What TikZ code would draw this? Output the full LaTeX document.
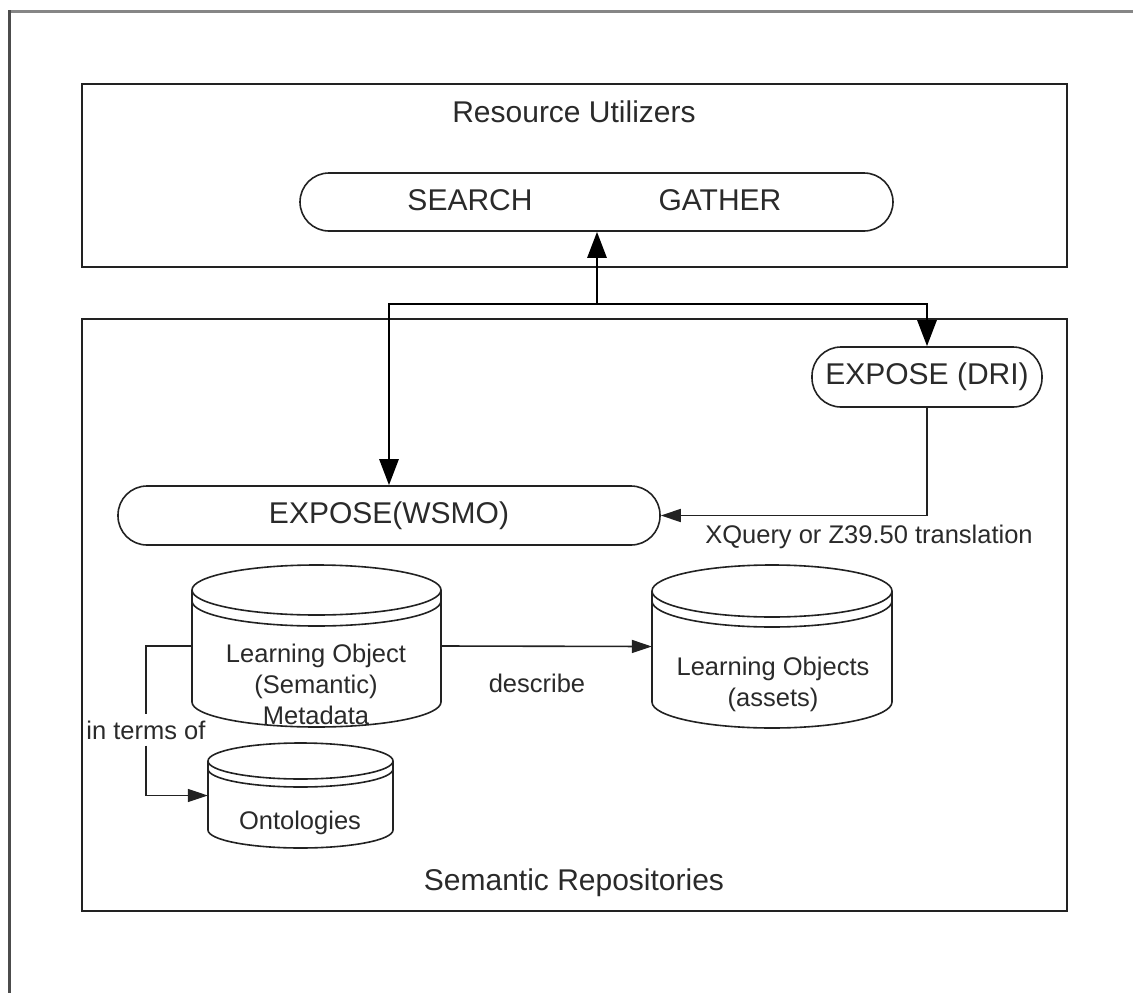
\documentclass[tikz,border=0pt]{standalone}
\usepackage{fontspec}
\setmainfont{Liberation Sans}
\usetikzlibrary{arrows.meta,calc}
\definecolor{ink}{HTML}{222222}
\definecolor{txt}{HTML}{2A2A2A}
\newcommand\bigtxt{\fontsize{30}{36}\selectfont}
\newcommand\smalltxt{\fontsize{25.5}{31}\selectfont}
% cylinder: #1 name, #2 cx, #3 top, #4 bottom, #5 rx, #6 ry, #7 gap
\newcommand\mycyl[7]{%
  \node[inner sep=0pt, minimum width={2*#5 pt}, minimum height={(#4-#3)*1pt}] (#1) at (#2,{-(#3+#4)/2}) {};
  \draw[cylline] ({#2-#5},{-#3-#6}) -- ({#2-#5},{-#4+#6})
     arc[start angle=180,end angle=360,x radius=#5,y radius=#6] -- ({#2+#5},{-#3-#6});
  \draw[cylline] (#2,{-#3-#6}) ellipse[x radius=#5,y radius=#6];
  \draw[cylline] ({#2-#5},{-#3-#6-#7}) arc[start angle=180,end angle=360,x radius=#5,y radius=#6];
}
\tikzset{
  frame/.style={draw=ink, line width=2pt, inner sep=0pt},
  pill/.style={draw=ink, line width=1.6pt, rounded corners=29pt, inner sep=0pt, minimum height=58pt, text=txt, font=\bigtxt},
  cylline/.style={draw=ink, line width=1.6pt},
  big/.style={text=txt, font=\bigtxt, inner sep=0pt},
  small/.style={text=txt, font=\smalltxt, inner sep=0pt, align=center},
  mainarrow/.style={draw=black, line width=2.8pt, -{Triangle[length=26pt,width=19pt]}},
  thinline/.style={draw=ink, line width=1.6pt},
  thinarrow/.style={draw=ink, line width=1.6pt, -{Triangle[length=20pt,width=13pt]}},
}
\begin{document}
\begin{tikzpicture}[x=1pt,y=1pt]
\useasboundingbox (0,0) rectangle (1133,-993);
% outer frame (partially visible)
\draw[draw=gray!95, line width=3pt] (8,-11.5) -- (1133,-11.5);
\draw[draw=black!70, line width=3pt] (9.5,-10) -- (9.5,-993);

% containers
\node[frame, minimum width=985pt, minimum height=183pt] (ru) at (574.5,-175.5) {};
\node[big] (rutitle) at (574,-112) {Resource Utilizers};
\node[frame, minimum width=985pt, minimum height=592pt] (sr) at (574.5,-615) {};
\node[big] (srtitle) at (574,-883) {Semantic Repositories};

% search / gather
\node[pill, minimum width=593pt] (sg) at (596.5,-202) {};
\node[big] (search) at (470,-200) {SEARCH};
\node[big] (gather) at (720,-200) {GATHER};

% expose nodes
\node[pill, minimum width=230pt, minimum height=60pt] (dri) at (927,-377) {EXPOSE (DRI)};
\node[pill, minimum width=542pt, minimum height=59pt] (wsmo) at (389,-515.5) {EXPOSE(WSMO)};

% branch connectors
\coordinate (j) at (597,-304);
\draw[mainarrow] (j) -- (j |- sg.south);
\draw[mainarrow] (j) -| (wsmo.north);
\draw[mainarrow] (j) -| (dri.north);

% DRI -> WSMO
\draw[thinarrow] (dri.south) |- (wsmo.east);
\node[small] (xq) at (869,-537) {XQuery or Z39.50 translation};

% cylinders
\mycyl{lom}{316.5}{565}{727}{124.5}{25}{11}
\node[small] (lomtxt) at (316,-684) {Learning Object\\(Semantic)\\Metadata};
\mycyl{lo}{772}{565}{728}{120}{26}{10}
\node[small] (lotxt) at (773,-684) {Learning Objects\\(assets)};
\mycyl{onto}{300.5}{743}{848}{92.5}{18}{8}
\node[small] (ontotxt) at (300,-823) {Ontologies};

% describe
\draw[thinarrow] (lom.east) -- (lo.west);
\node[small] (desc) at (537,-683) {describe};

% in terms of
\node[small, inner xsep=0pt, inner ysep=6pt] (terms) at (146,-730) {in terms of};
\draw[thinline] (lom.west) -| (terms.north);
\draw[thinarrow] (terms.south) |- (onto.west);
\end{tikzpicture}
\end{document}
